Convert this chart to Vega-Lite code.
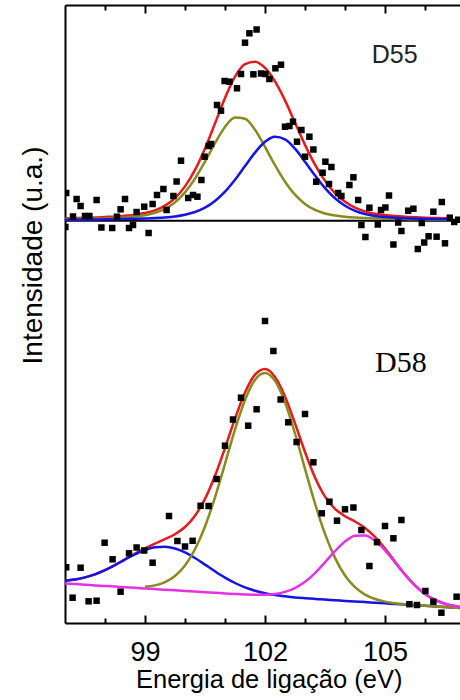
{
  "$schema": "https://vega.github.io/schema/vega-lite/v6.json",
  "width": 395,
  "height": 618,
  "autosize": {"type": "none"},
  "padding": {"left": 65, "top": 5, "right": 0, "bottom": 77},
  "background": "white",
  "view": {"stroke": null},
  "config": {
    "axis": {
      "grid": false,
      "domainColor": "black",
      "domainWidth": 2,
      "tickColor": "black",
      "tickWidth": 2,
      "labelColor": "black",
      "titleColor": "black",
      "labelFont": "Liberation Sans",
      "titleFont": "Liberation Sans",
      "titleFontWeight": "normal"
    }
  },
  "datasets": {
    "pontos_D55": [
      {"energia": 97.03, "intensidade": 430}, {"energia": 97.01, "intensidade": 396}, {"energia": 97.2, "intensidade": 406.5},
      {"energia": 97.29, "intensidade": 424}, {"energia": 97.39, "intensidade": 417}, {"energia": 97.5, "intensidade": 407},
      {"energia": 97.61, "intensidade": 407}, {"energia": 97.79, "intensidade": 423}, {"energia": 97.91, "intensidade": 395.5},
      {"energia": 98.18, "intensidade": 395}, {"energia": 98.3, "intensidade": 406.3}, {"energia": 98.39, "intensidade": 413.7},
      {"energia": 98.5, "intensidade": 424}, {"energia": 98.6, "intensidade": 395}, {"energia": 98.7, "intensidade": 398},
      {"energia": 98.79, "intensidade": 411}, {"energia": 98.98, "intensidade": 416.3}, {"energia": 99.09, "intensidade": 390},
      {"energia": 99.19, "intensidade": 419}, {"energia": 99.3, "intensidade": 428}, {"energia": 99.46, "intensidade": 434},
      {"energia": 99.54, "intensidade": 413}, {"energia": 99.71, "intensidade": 427}, {"energia": 99.79, "intensidade": 441.5},
      {"energia": 99.9, "intensidade": 462.3}, {"energia": 100.08, "intensidade": 425}, {"energia": 100.2, "intensidade": 428},
      {"energia": 100.31, "intensidade": 426.3}, {"energia": 100.41, "intensidade": 443}, {"energia": 100.49, "intensidade": 466.3},
      {"energia": 100.59, "intensidade": 477}, {"energia": 100.65, "intensidade": 479}, {"energia": 100.8, "intensidade": 518},
      {"energia": 100.9, "intensidade": 512.3}, {"energia": 100.99, "intensidade": 542}, {"energia": 101.11, "intensidade": 541.3},
      {"energia": 101.3, "intensidade": 534.7}, {"energia": 101.4, "intensidade": 549}, {"energia": 101.5, "intensidade": 580.3},
      {"energia": 101.61, "intensidade": 589.7}, {"energia": 101.79, "intensidade": 593.5}, {"energia": 101.71, "intensidade": 548.7},
      {"energia": 101.9, "intensidade": 549.5}, {"energia": 102.01, "intensidade": 549}, {"energia": 102.11, "intensidade": 544},
      {"energia": 102.26, "intensidade": 554.7}, {"energia": 102.4, "intensidade": 558.3}, {"energia": 102.5, "intensidade": 496.3},
      {"energia": 102.61, "intensidade": 497}, {"energia": 102.7, "intensidade": 501.3}, {"energia": 102.8, "intensidade": 481.3},
      {"energia": 102.91, "intensidade": 493}, {"energia": 103.0, "intensidade": 466.3}, {"energia": 103.11, "intensidade": 486.3},
      {"energia": 103.21, "intensidade": 473.5}, {"energia": 103.28, "intensidade": 441.3}, {"energia": 103.44, "intensidade": 450.3},
      {"energia": 103.51, "intensidade": 461.3}, {"energia": 103.6, "intensidade": 439}, {"energia": 103.66, "intensidade": 456},
      {"energia": 103.83, "intensidade": 430}, {"energia": 103.91, "intensidade": 427}, {"energia": 104.11, "intensidade": 438},
      {"energia": 104.21, "intensidade": 445.7}, {"energia": 104.33, "intensidade": 423}, {"energia": 104.41, "intensidade": 398},
      {"energia": 104.51, "intensidade": 386}, {"energia": 104.61, "intensidade": 415.3}, {"energia": 104.82, "intensidade": 398.5},
      {"energia": 104.9, "intensidade": 413}, {"energia": 105.01, "intensidade": 415.5}, {"energia": 105.1, "intensidade": 427.5},
      {"energia": 105.21, "intensidade": 378.5}, {"energia": 105.33, "intensidade": 400.5}, {"energia": 105.41, "intensidade": 392},
      {"energia": 105.58, "intensidade": 412.3}, {"energia": 105.71, "intensidade": 414.3}, {"energia": 105.82, "intensidade": 374},
      {"energia": 105.92, "intensidade": 400}, {"energia": 105.98, "intensidade": 380.5}, {"energia": 106.09, "intensidade": 386.7},
      {"energia": 106.21, "intensidade": 411.3}, {"energia": 106.29, "intensidade": 386.3}, {"energia": 106.42, "intensidade": 421},
      {"energia": 106.5, "intensidade": 379.7}, {"energia": 106.62, "intensidade": 405.3}, {"energia": 106.73, "intensidade": 401},
      {"energia": 106.83, "intensidade": 403.3}
    ],
    "pontos_D58": [
      {"energia": 97.03, "intensidade": 55.7}, {"energia": 97.19, "intensidade": 25.3}, {"energia": 97.39, "intensidade": 55.3},
      {"energia": 97.59, "intensidade": 21.7}, {"energia": 97.79, "intensidade": 22.3}, {"energia": 97.99, "intensidade": 80.3},
      {"energia": 98.19, "intensidade": 63.7}, {"energia": 98.39, "intensidade": 31.3}, {"energia": 98.6, "intensidade": 69.7},
      {"energia": 98.79, "intensidade": 75.5}, {"energia": 98.98, "intensidade": 72.5}, {"energia": 99.19, "intensidade": 60.3},
      {"energia": 99.6, "intensidade": 107}, {"energia": 99.81, "intensidade": 82}, {"energia": 100.0, "intensidade": 76.5},
      {"energia": 100.19, "intensidade": 82.2}, {"energia": 100.39, "intensidade": 117.2}, {"energia": 100.59, "intensidade": 117},
      {"energia": 100.79, "intensidade": 144}, {"energia": 101.0, "intensidade": 177.3}, {"energia": 101.2, "intensidade": 203.5},
      {"energia": 101.4, "intensidade": 225.3}, {"energia": 101.58, "intensidade": 197.3}, {"energia": 101.79, "intensidade": 213.7},
      {"energia": 102.0, "intensidade": 302}, {"energia": 102.21, "intensidade": 272}, {"energia": 102.39, "intensidade": 223.5},
      {"energia": 102.58, "intensidade": 200.7}, {"energia": 102.79, "intensidade": 181}, {"energia": 103.0, "intensidade": 209},
      {"energia": 103.21, "intensidade": 160.7}, {"energia": 103.42, "intensidade": 109.7}, {"energia": 103.61, "intensidade": 121.3},
      {"energia": 103.8, "intensidade": 102.3}, {"energia": 104.0, "intensidade": 113.7}, {"energia": 104.21, "intensidade": 115.5},
      {"energia": 104.41, "intensidade": 93}, {"energia": 104.61, "intensidade": 57}, {"energia": 104.8, "intensidade": 80.8},
      {"energia": 105.0, "intensidade": 97}, {"energia": 105.21, "intensidade": 84.7}, {"energia": 105.41, "intensidade": 103},
      {"energia": 105.61, "intensidade": 18.8}, {"energia": 105.8, "intensidade": 18}, {"energia": 106.01, "intensidade": 32},
      {"energia": 106.21, "intensidade": 21.3}, {"energia": 106.41, "intensidade": 10.3}, {"energia": 106.79, "intensidade": 26.3}
    ],
    "ajuste_D55": [
      {"energia": 97.0, "pico1": 403.7, "pico2": 403.2, "envoltoria": 404.6},
      {"energia": 97.25, "pico1": 403.9, "pico2": 403.3, "envoltoria": 404.9},
      {"energia": 97.5, "pico1": 404.1, "pico2": 403.4, "envoltoria": 405.2},
      {"energia": 97.75, "pico1": 404.3, "pico2": 403.5, "envoltoria": 405.5},
      {"energia": 98.0, "pico1": 404.6, "pico2": 403.7, "envoltoria": 406.0},
      {"energia": 98.25, "pico1": 405.0, "pico2": 403.8, "envoltoria": 406.5},
      {"energia": 98.5, "pico1": 405.6, "pico2": 404.0, "envoltoria": 407.3},
      {"energia": 98.75, "pico1": 406.4, "pico2": 404.3, "envoltoria": 408.3},
      {"energia": 99.0, "pico1": 407.7, "pico2": 404.6, "envoltoria": 410.0},
      {"energia": 99.25, "pico1": 410.1, "pico2": 405.0, "envoltoria": 412.7},
      {"energia": 99.5, "pico1": 414.1, "pico2": 405.6, "envoltoria": 417.4},
      {"energia": 99.75, "pico1": 420.6, "pico2": 406.6, "envoltoria": 424.9},
      {"energia": 100.0, "pico1": 430.6, "pico2": 408.3, "envoltoria": 436.6},
      {"energia": 100.25, "pico1": 444.4, "pico2": 411.0, "envoltoria": 453.1},
      {"energia": 100.5, "pico1": 461.4, "pico2": 415.4, "envoltoria": 474.6},
      {"energia": 100.75, "pico1": 479.8, "pico2": 422.1, "envoltoria": 499.6},
      {"energia": 101.0, "pico1": 496.0, "pico2": 431.4, "envoltoria": 525.1},
      {"energia": 101.25, "pico1": 505.4, "pico2": 443.3, "envoltoria": 546.4},
      {"energia": 101.5, "pico1": 504.3, "pico2": 456.9, "envoltoria": 558.9},
      {"energia": 101.75, "pico1": 493.2, "pico2": 470.4, "envoltoria": 561.3},
      {"energia": 102.0, "pico1": 476.2, "pico2": 481.2, "envoltoria": 555.1},
      {"energia": 102.25, "pico1": 457.8, "pico2": 486.2, "envoltoria": 541.7},
      {"energia": 102.5, "pico1": 441.3, "pico2": 483.6, "envoltoria": 522.6},
      {"energia": 102.75, "pico1": 428.3, "pico2": 474.3, "envoltoria": 500.3},
      {"energia": 103.0, "pico1": 419.1, "pico2": 461.3, "envoltoria": 478.1},
      {"energia": 103.25, "pico1": 413.1, "pico2": 447.5, "envoltoria": 458.3},
      {"energia": 103.5, "pico1": 409.5, "pico2": 434.9, "envoltoria": 442.1},
      {"energia": 103.75, "pico1": 407.4, "pico2": 424.8, "envoltoria": 429.9},
      {"energia": 104.0, "pico1": 406.2, "pico2": 417.3, "envoltoria": 421.2},
      {"energia": 104.25, "pico1": 405.4, "pico2": 412.2, "envoltoria": 415.4},
      {"energia": 104.5, "pico1": 404.9, "pico2": 409.0, "envoltoria": 411.6},
      {"energia": 104.75, "pico1": 404.6, "pico2": 407.0, "envoltoria": 409.3},
      {"energia": 105.0, "pico1": 404.3, "pico2": 405.9, "envoltoria": 407.9},
      {"energia": 105.25, "pico1": 404.1, "pico2": 405.2, "envoltoria": 406.9},
      {"energia": 105.5, "pico1": 403.9, "pico2": 404.7, "envoltoria": 406.2},
      {"energia": 105.75, "pico1": 403.7, "pico2": 404.3, "envoltoria": 405.7},
      {"energia": 106.0, "pico1": 403.6, "pico2": 404.1, "envoltoria": 405.3},
      {"energia": 106.25, "pico1": 403.4, "pico2": 403.9, "envoltoria": 405.0},
      {"energia": 106.5, "pico1": 403.3, "pico2": 403.7, "envoltoria": 404.7},
      {"energia": 106.55, "pico1": 403.3, "pico2": 403.7, "envoltoria": 404.7}
    ],
    "ajuste_D58": [
      {"energia": 97.0, "pico1": null, "pico2": 42.2, "pico3": 39.5, "envoltoria": 42.2},
      {"energia": 97.25, "pico1": null, "pico2": 43.4, "pico3": 38.9, "envoltoria": 43.4},
      {"energia": 97.5, "pico1": null, "pico2": 45.6, "pico3": 38.3, "envoltoria": 45.6},
      {"energia": 97.75, "pico1": null, "pico2": 48.7, "pico3": 37.6, "envoltoria": 48.7},
      {"energia": 98.0, "pico1": null, "pico2": 52.9, "pico3": 37.0, "envoltoria": 52.9},
      {"energia": 98.25, "pico1": null, "pico2": 57.9, "pico3": 36.4, "envoltoria": 58.0},
      {"energia": 98.5, "pico1": null, "pico2": 63.4, "pico3": 35.8, "envoltoria": 63.7},
      {"energia": 98.75, "pico1": null, "pico2": 68.7, "pico3": 35.2, "envoltoria": 69.4},
      {"energia": 99.0, "pico1": 36.2, "pico2": 73.0, "pico3": 34.5, "envoltoria": 74.7},
      {"energia": 99.25, "pico1": 37.6, "pico2": 75.8, "pico3": 33.9, "envoltoria": 79.4},
      {"energia": 99.5, "pico1": 40.8, "pico2": 76.3, "pico3": 33.3, "envoltoria": 83.8},
      {"energia": 99.75, "pico1": 47.0, "pico2": 74.5, "pico3": 32.7, "envoltoria": 88.8},
      {"energia": 100.0, "pico1": 57.5, "pico2": 70.6, "pico3": 32.1, "envoltoria": 96.0},
      {"energia": 100.25, "pico1": 73.7, "pico2": 65.0, "pico3": 31.4, "envoltoria": 107.3},
      {"energia": 100.5, "pico1": 96.5, "pico2": 58.4, "pico3": 30.8, "envoltoria": 124.1},
      {"energia": 100.75, "pico1": 125.7, "pico2": 51.7, "pico3": 30.2, "envoltoria": 147.2},
      {"energia": 101.0, "pico1": 159.2, "pico2": 45.4, "pico3": 29.6, "envoltoria": 175.0},
      {"energia": 101.25, "pico1": 193.3, "pico2": 40.0, "pico3": 29.0, "envoltoria": 204.4},
      {"energia": 101.5, "pico1": 223.0, "pico2": 35.6, "pico3": 28.5, "envoltoria": 230.5},
      {"energia": 101.75, "pico1": 243.3, "pico2": 32.3, "pico3": 28.2, "envoltoria": 248.4},
      {"energia": 102.0, "pico1": 250.1, "pico2": 29.8, "pico3": 28.3, "envoltoria": 254.0},
      {"energia": 102.25, "pico1": 242.1, "pico2": 28.0, "pico3": 29.0, "envoltoria": 246.1},
      {"energia": 102.5, "pico1": 220.6, "pico2": 26.7, "pico3": 31.1, "envoltoria": 226.6},
      {"energia": 102.75, "pico1": 189.5, "pico2": 25.6, "pico3": 34.9, "envoltoria": 199.6},
      {"energia": 103.0, "pico1": 154.2, "pico2": 24.8, "pico3": 41.2, "envoltoria": 171.0},
      {"energia": 103.25, "pico1": 119.5, "pico2": 24.1, "pico3": 49.9, "envoltoria": 145.5},
      {"energia": 103.5, "pico1": 89.1, "pico2": 23.4, "pico3": 60.7, "envoltoria": 126.4},
      {"energia": 103.75, "pico1": 65.1, "pico2": 22.8, "pico3": 71.8, "envoltoria": 114.1},
      {"energia": 104.0, "pico1": 47.5, "pico2": 22.1, "pico3": 81.4, "envoltoria": 106.8},
      {"energia": 104.25, "pico1": 35.8, "pico2": 21.5, "pico3": 87.2, "envoltoria": 101.5},
      {"energia": 104.5, "pico1": 28.4, "pico2": 20.9, "pico3": 87.6, "envoltoria": 95.1},
      {"energia": 104.75, "pico1": 24.0, "pico2": 20.3, "pico3": 82.4, "envoltoria": 86.1},
      {"energia": 105.0, "pico1": 21.4, "pico2": 19.7, "pico3": 72.7, "envoltoria": 74.4},
      {"energia": 105.25, "pico1": 19.8, "pico2": 19.0, "pico3": 60.6, "envoltoria": 61.3},
      {"energia": 105.5, "pico1": 18.7, "pico2": 18.4, "pico3": 48.3, "envoltoria": 48.6},
      {"energia": 105.75, "pico1": 17.9, "pico2": 17.8, "pico3": 37.5, "envoltoria": 37.6},
      {"energia": 106.0, "pico1": 17.2, "pico2": 17.2, "pico3": 29.1, "envoltoria": 29.1},
      {"energia": 106.25, "pico1": 16.6, "pico2": 16.6, "pico3": 23.1, "envoltoria": 23.1},
      {"energia": 106.5, "pico1": 15.9, "pico2": 15.9, "pico3": 19.3, "envoltoria": 19.3},
      {"energia": 106.75, "pico1": 15.3, "pico2": 15.3, "pico3": 16.9, "envoltoria": 16.9},
      {"energia": 106.875, "pico1": 15.0, "pico2": 15.0, "pico3": 16.0, "envoltoria": 16.0}
    ],
    "linha_base_D55": [{"intensidade": 402.3}],
    "rotulos": [
      {"amostra": "D55", "energia": 104.67, "intensidade": 559.7},
      {"amostra": "D58", "energia": 104.75, "intensidade": 251.3}
    ]
  },
  "resolve": {"axis": {"x": "independent", "y": "independent"}},
  "layer": [
    {
      "data": {"name": "linha_base_D55"},
      "mark": {"type": "rule", "color": "black", "strokeWidth": 2},
      "encoding": {"y": {"field": "intensidade", "type": "quantitative", "axis": null}}
    },
    {
      "data": {"name": "ajuste_D55"},
      "mark": {"type": "line", "color": "#e61a1a", "strokeWidth": 2.5, "interpolate": "monotone", "clip": true},
      "encoding": {
        "x": {"field": "energia", "type": "quantitative",
              "axis": {"orient": "top", "values": [99, 102, 105], "tickSize": -8, "labels": false, "domain": true, "title": null}},
        "y": {"field": "envoltoria", "type": "quantitative",
              "axis": {"orient": "left", "ticks": false, "labels": false, "domain": true,
                       "title": "Intensidade (u.a.)", "titleFontSize": 28, "titleX": -24, "titleY": 250,
                       "titleBaseline": "alphabetic", "titleAngle": 270}}
      }
    },
    {
      "data": {"name": "ajuste_D55"},
      "mark": {"type": "line", "color": "#8a8a1e", "strokeWidth": 2.5, "interpolate": "monotone", "clip": true},
      "encoding": {
        "x": {"field": "energia", "type": "quantitative",
              "axis": {"orient": "top", "values": [98, 100, 101, 103, 104, 106], "tickSize": -5, "labels": false, "domain": false, "title": null}},
        "y": {"field": "pico1", "type": "quantitative", "axis": null}
      }
    },
    {
      "data": {"name": "ajuste_D55"},
      "mark": {"type": "line", "color": "#1414e6", "strokeWidth": 2.5, "interpolate": "monotone", "clip": true},
      "encoding": {
        "x": {"field": "energia", "type": "quantitative", "axis": null},
        "y": {"field": "pico2", "type": "quantitative", "axis": null}
      }
    },
    {
      "data": {"name": "ajuste_D58"},
      "mark": {"type": "line", "color": "#e61a1a", "strokeWidth": 2.5, "interpolate": "monotone", "clip": true},
      "encoding": {
        "x": {"field": "energia", "type": "quantitative", "axis": null},
        "y": {"field": "envoltoria", "type": "quantitative", "axis": null}
      }
    },
    {
      "data": {"name": "ajuste_D58"},
      "mark": {"type": "line", "color": "#1414e6", "strokeWidth": 2.5, "interpolate": "monotone", "clip": true},
      "encoding": {
        "x": {"field": "energia", "type": "quantitative", "axis": null},
        "y": {"field": "pico2", "type": "quantitative", "axis": null}
      }
    },
    {
      "data": {"name": "ajuste_D58"},
      "mark": {"type": "line", "color": "#8a8a1e", "strokeWidth": 2.5, "interpolate": "monotone", "clip": true},
      "encoding": {
        "x": {"field": "energia", "type": "quantitative", "axis": null},
        "y": {"field": "pico1", "type": "quantitative", "axis": null}
      }
    },
    {
      "data": {"name": "ajuste_D58"},
      "mark": {"type": "line", "color": "#e632e6", "strokeWidth": 2.5, "interpolate": "monotone", "clip": true},
      "encoding": {
        "x": {"field": "energia", "type": "quantitative", "axis": null},
        "y": {"field": "pico3", "type": "quantitative", "axis": null}
      }
    },
    {
      "data": {"name": "pontos_D55"},
      "mark": {"type": "square", "filled": true, "color": "black", "size": 42, "opacity": 1, "clip": true},
      "encoding": {
        "x": {"field": "energia", "type": "quantitative",
              "scale": {"domain": [97, 106.875], "nice": false, "zero": false},
              "axis": {"orient": "bottom", "values": [99, 102, 105], "tickSize": -8, "labelFontSize": 27,
                       "labelPadding": 45, "labelBaseline": "alphabetic", "labelFlush": false, "labelOverlap": false,
                       "title": "Energia de ligação (eV)", "titleFontSize": 25.5, "titleX": 203.7, "titleY": 64.5,
                       "titleBaseline": "alphabetic"}},
        "y": {"field": "intensidade", "type": "quantitative",
              "scale": {"domain": [0, 618], "nice": false, "zero": false}, "axis": null}
      }
    },
    {
      "data": {"name": "pontos_D58"},
      "mark": {"type": "square", "filled": true, "color": "black", "size": 42, "opacity": 1, "clip": true},
      "encoding": {
        "x": {"field": "energia", "type": "quantitative",
              "axis": {"orient": "bottom", "values": [98, 100, 101, 103, 104, 106], "tickSize": -5, "labels": false, "domain": false, "title": null}},
        "y": {"field": "intensidade", "type": "quantitative", "axis": null}
      }
    },
    {
      "data": {"name": "rotulos"},
      "transform": [{"filter": "datum.amostra === 'D55'"}],
      "mark": {"type": "text", "font": "Liberation Sans", "fontSize": 25, "align": "left", "baseline": "alphabetic", "color": "#222222"},
      "encoding": {
        "text": {"field": "amostra"},
        "x": {"field": "energia", "type": "quantitative", "axis": null},
        "y": {"field": "intensidade", "type": "quantitative", "axis": null}
      }
    },
    {
      "data": {"name": "rotulos"},
      "transform": [{"filter": "datum.amostra === 'D58'"}],
      "mark": {"type": "text", "font": "Liberation Serif", "fontSize": 30, "align": "left", "baseline": "alphabetic", "color": "black"},
      "encoding": {
        "text": {"field": "amostra"},
        "x": {"field": "energia", "type": "quantitative", "axis": null},
        "y": {"field": "intensidade", "type": "quantitative", "axis": null}
      }
    }
  ]
}
